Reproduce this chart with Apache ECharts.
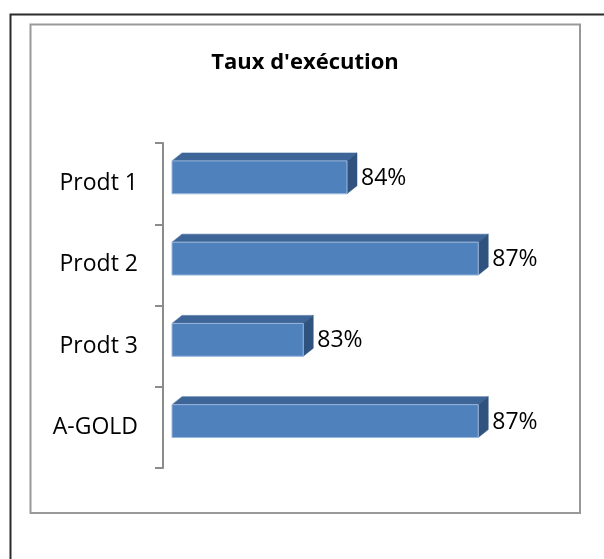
<!DOCTYPE html>
<html>
<head>
<meta charset="utf-8">
<script src="https://cdn.jsdelivr.net/npm/echarts@6/dist/echarts.min.js"></script>
<style>
html,body{margin:0;padding:0;background:#fff;}
#chart{width:604px;height:559px;}
</style>
</head>
<body>
<div id="chart"></div>
<script>
const categories = ["Prodt 1", "Prodt 2", "Prodt 3", "A-GOLD"];
const values = [0.84, 0.87, 0.83, 0.87];
const titleText = "Taux d'exécution";

const FONT = "'Open Sans', 'Liberation Sans', sans-serif";
const chart = echarts.init(document.getElementById('chart'), null, {renderer: 'canvas'});

const seriesData = values.map((v, i) => [v, i]);

function renderBar(params, api) {
  const v = api.value(0);
  const idx = api.value(1);
  const cs = params.coordSys;
  const x0 = cs.x;
  const end = api.coord([v, idx]);
  const band = api.size([0, 1])[1];
  const x1 = end[0];
  const cy = end[1];
  const top = cy - band * 0.28;
  const h = band * 0.405;
  const dx = 10, dy = -8;
  return {
    type: 'group',
    children: [
      {
        type: 'polygon',
        shape: {points: [[x0, top], [x0 + dx, top + dy], [x1 + dx, top + dy], [x1, top]]},
        style: {fill: '#3d6597', stroke: '#3d6597', lineWidth: 0.5}
      },
      {
        type: 'polygon',
        shape: {points: [[x1, top], [x1 + dx, top + dy], [x1 + dx, top + h + dy], [x1, top + h]]},
        style: {fill: '#30527f', stroke: '#30527f', lineWidth: 0.5}
      },
      {
        type: 'rect',
        shape: {x: x0, y: top, width: x1 - x0, height: h},
        style: {fill: '#4f81bd', stroke: '#9bb7dc', lineWidth: 1}
      },
      {
        type: 'text',
        style: {
          text: Math.round(v * 100) + '%',
          x: x1 + dx + 4,
          y: top + h / 2 + 1,
          verticalAlign: 'middle',
          align: 'left',
          fill: '#000',
          font: '23px ' + FONT
        }
      }
    ]
  };
}

const option = {
  backgroundColor: '#ffffff',
  animation: false,
  title: {
    text: titleText,
    left: 300,
    top: 47,
    textAlign: 'center',
    textStyle: {fontFamily: FONT, fontSize: 22, fontWeight: 'bold', color: '#000'}
  },
  graphic: [
    {type: 'rect', shape: {x: 10.5, y: 14.5, width: 800, height: 800}, style: {fill: 'none', stroke: '#2b2b2b', lineWidth: 2}, z: -1},
    {type: 'rect', shape: {x: 30.5, y: 24.5, width: 549.5, height: 488.5}, style: {fill: 'none', stroke: '#999999', lineWidth: 2}, z: -1}
  ],
  grid: {left: 172, top: 143, width: 350, height: 325, containLabel: false},
  xAxis: {
    type: 'value',
    min: 0.8,
    max: 0.88,
    show: false
  },
  yAxis: {
    type: 'category',
    data: categories,
    inverse: true,
    offset: 9,
    axisLine: {show: true, lineStyle: {color: '#8c8c8c', width: 2}},
    axisTick: {show: true, length: 8, lineStyle: {color: '#8c8c8c', width: 2}},
    axisLabel: {fontFamily: FONT, fontSize: 23, color: '#000', margin: 25},
    splitLine: {show: false}
  },
  series: [{
    type: 'custom',
    renderItem: renderBar,
    encode: {x: 0, y: 1},
    data: seriesData
  }]
};
chart.setOption(option);
</script>
</body>
</html>
